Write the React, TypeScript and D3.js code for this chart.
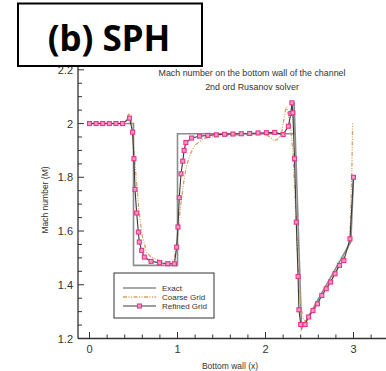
import React from "react";
import * as d3 from "d3";

// ---- data ----
const exactX = [0, 0.5, 0.5, 1.0, 1.0, 2.325, 2.325, 2.41, 2.97, 3.0];
const exactM = [2.0, 2.0, 1.472, 1.472, 1.962, 1.962, 2.08, 1.237, 1.56, 1.8];

const coarseX = [0, 0.4, 0.45, 0.48, 0.5, 0.53, 0.56, 0.6, 0.65, 0.7, 0.8, 0.9, 0.96, 1.0, 1.03, 1.07, 1.1, 1.15, 1.2, 1.3, 1.5, 1.8, 2.0, 2.05, 2.1, 2.15, 2.19, 2.22, 2.24, 2.28, 2.31, 2.34, 2.37, 2.4, 2.43, 2.46, 2.5, 2.6, 2.7, 2.8, 2.9, 2.94, 2.96, 2.98, 2.99];
const coarseM = [2.0, 2.0, 2.038, 2.0, 1.92, 1.8, 1.68, 1.58, 1.52, 1.503, 1.49, 1.484, 1.49, 1.57, 1.68, 1.78, 1.84, 1.89, 1.92, 1.945, 1.955, 1.958, 1.96, 1.95, 1.935, 1.945, 1.975, 2.04, 2.062, 2.0, 1.9, 1.7, 1.48, 1.32, 1.27, 1.265, 1.29, 1.34, 1.395, 1.45, 1.51, 1.54, 1.58, 1.8, 2.0];

const refinedX = [0, 0.075, 0.15, 0.225, 0.3, 0.375, 0.455, 0.49, 0.505, 0.517, 0.536, 0.555, 0.566, 0.593, 0.623, 0.7, 0.795, 0.89, 0.965, 0.99, 1.005, 1.02, 1.04, 1.06, 1.075, 1.095, 1.16, 1.25, 1.345, 1.44, 1.535, 1.63, 1.725, 1.82, 1.915, 2.01, 2.105, 2.2, 2.26, 2.288, 2.3, 2.31, 2.33, 2.35, 2.37, 2.38, 2.4, 2.45, 2.49, 2.54, 2.59, 2.64, 2.69, 2.74, 2.79, 2.84, 2.89, 2.96, 3.0];
const refinedM = [2.0, 2.0, 2.0, 2.0, 2.0, 2.0, 2.02, 1.968, 1.869, 1.755, 1.667, 1.596, 1.559, 1.528, 1.503, 1.487, 1.482, 1.478, 1.478, 1.54, 1.615, 1.724, 1.813, 1.86, 1.9, 1.929, 1.946, 1.953, 1.956, 1.958, 1.96, 1.961, 1.962, 1.963, 1.965, 1.966, 1.967, 1.959, 1.99, 2.037, 2.077, 2.04, 1.869, 1.633, 1.431, 1.307, 1.252, 1.252, 1.28, 1.304, 1.329, 1.36, 1.385, 1.41, 1.441, 1.472, 1.49, 1.571, 1.8];

const xTicks = [0, 1, 2, 3];
const yTicks = [1.2, 1.4, 1.6, 1.8, 2, 2.2];
const titleLines = ["Mach number on the bottom wall of the channel", "2nd ord Rusanov solver"];
const legendLabels = ["Exact", "Coarse Grid", "Refined Grid"];

const W = 386;
const H = 371;

export default function App() {
  const x = d3.scaleLinear().domain([0, 3]).range([89.5, 353.5]);
  const y = d3.scaleLinear().domain([1.2, 2.2]).range([338.5, 69.8]);
  const axisX = 78;
  const axisY = 338.5;

  const line = d3
    .line<[number, number]>()
    .x((d) => x(d[0]))
    .y((d) => y(d[1]));

  const exactPts = exactX.map((v, i) => [v, exactM[i]] as [number, number]);
  const coarsePts = coarseX.map((v, i) => [v, coarseM[i]] as [number, number]);
  const refinedPts = refinedX.map((v, i) => [v, refinedM[i]] as [number, number]);

  const yMinor = d3.range(1.2, 2.2001, 0.05);
  const xMinor = d3.range(-0.0, 3.41, 0.2);

  const font = "Arial, 'Liberation Sans', sans-serif";
  const pink = "#e8358c";
  const coarseColor = "#d9a066";
  const dash = "4,1.5,1,1.5,1,1.5";
  const ms = 4;

  return (
    <div style={{ position: "fixed", left: 0, top: 0 }}>
      <svg width={W} height={H} style={{ display: "block", background: "#fff" }}>
        <rect width={W} height={H} fill="#fff" />
        {/* axes */}
        <line x1={axisX} x2={axisX} y1={axisY} y2={60} stroke="#333" strokeWidth={1.3} />
        <line x1={axisX} x2={W} y1={axisY} y2={axisY} stroke="#333" strokeWidth={1.3} />
        {yMinor.map((t, i) => {
          const major = Math.abs(Math.round(t * 5) - t * 5) < 1e-6;
          return (
            <line key={"ym" + i} x1={axisX} x2={axisX + (major ? 6 : 4)} y1={y(t)} y2={y(t)} stroke="#333" strokeWidth={1} />
          );
        })}
        {xMinor.map((t, i) => {
          const major = Math.abs(Math.round(t) - t) < 1e-6;
          return (
            <line key={"xm" + i} x1={x(t)} x2={x(t)} y1={axisY} y2={axisY - (major ? 6.5 : 4)} stroke="#333" strokeWidth={1} />
          );
        })}
        {yTicks.map((t) => (
          <text key={"yl" + t} x={73} y={y(t) + 4} textAnchor="end" fontFamily={font} fontSize={11} fill="#333">
            {String(t)}
          </text>
        ))}
        {xTicks.map((t) => (
          <text key={"xl" + t} x={x(t)} y={353} textAnchor="middle" fontFamily={font} fontSize={11} fill="#333">
            {String(t)}
          </text>
        ))}
        <text x={230} y={369} textAnchor="middle" fontFamily={font} fontSize={8.5} fill="#333">
          Bottom wall (x)
        </text>
        <text
          transform={`translate(48,200) rotate(-90)`}
          textAnchor="middle"
          fontFamily={font}
          fontSize={8.5}
          fill="#333"
        >
          Mach number (M)
        </text>
        {titleLines.map((t, i) => (
          <text key={t} x={252} y={75.5 + i * 14} textAnchor="middle" fontFamily={font} fontSize={8.9} fill="#333">
            {t}
          </text>
        ))}

        {/* series */}
        <path d={line(exactPts) || ""} fill="none" stroke="#8c8c8c" strokeWidth={1.6} />
        <path d={line(coarsePts) || ""} fill="none" stroke={coarseColor} strokeWidth={1.3} strokeDasharray={dash} />
        <path d={line(refinedPts) || ""} fill="none" stroke="#3a3a3a" strokeWidth={1.1} />
        {refinedPts.map((p, i) => (
          <rect
            key={"m" + i}
            x={x(p[0]) - ms / 2}
            y={y(p[1]) - ms / 2}
            width={ms}
            height={ms}
            fill="#f59ac6"
            stroke={pink}
            strokeWidth={1.1}
          />
        ))}

        {/* legend */}
        <rect x={114} y={273} width={100} height={45} fill="#fff" stroke="#333" strokeWidth={1} />
        {legendLabels.map((lab, i) => {
          const ly = 288 + i * 9;
          return (
            <g key={lab}>
              {i === 0 && <line x1={123} x2={156} y1={ly} y2={ly} stroke="#8c8c8c" strokeWidth={1.6} />}
              {i === 1 && (
                <line x1={123} x2={156} y1={ly} y2={ly} stroke={coarseColor} strokeWidth={1.3} strokeDasharray={dash} />
              )}
              {i === 2 && (
                <g>
                  <line x1={123} x2={156} y1={ly} y2={ly} stroke="#3a3a3a" strokeWidth={1.1} />
                  <rect x={139.5 - ms / 2} y={ly - ms / 2} width={ms} height={ms} fill="#f59ac6" stroke={pink} strokeWidth={1.1} />
                </g>
              )}
              <text x={162} y={ly + 3} fontFamily={font} fontSize={8} fill="#333">
                {lab}
              </text>
            </g>
          );
        })}

        {/* label box */}
        <rect x={18} y={3.5} width={184} height={62.5} fill="#fff" stroke="#000" strokeWidth={2} />
        <text x={109} y={51} textAnchor="middle" fontFamily="'Noto Sans', 'Open Sans', sans-serif" fontWeight="bold" fontSize={35} fill="#000">
          (b) SPH
        </text>
      </svg>
    </div>
  );
}
